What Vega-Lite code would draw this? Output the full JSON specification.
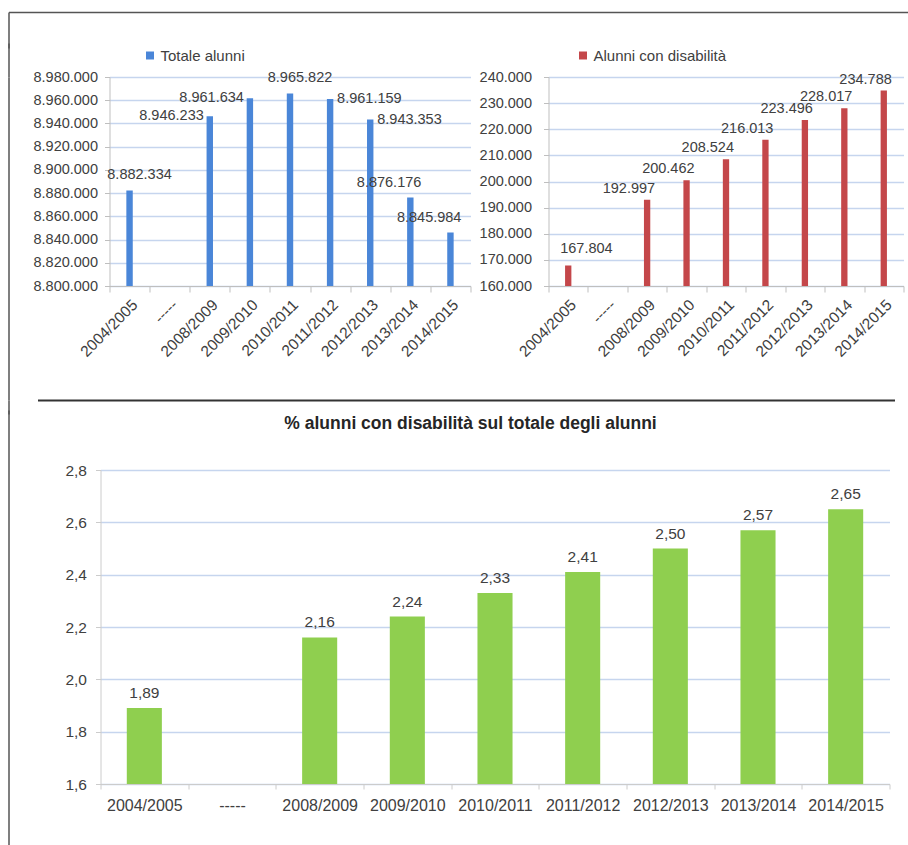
{
  "$schema": "https://vega.github.io/schema/vega-lite/v6.json",
  "padding": {"left": 8.5, "top": 12, "right": 0, "bottom": 0},
  "background": "white",
  "config": {
    "locale": {"number": {"decimal": ",", "thousands": ".", "grouping": [3], "currency": ["", " €"]}},
    "font": "Liberation Sans",
    "view": {"stroke": null},
    "axis": {"labelColor": "#404040", "labelFont": "Liberation Sans", "domainColor": "#bfbfbf", "tickColor": "#bfbfbf", "gridColor": "#c6d5ee", "gridWidth": 1.5, "title": null, "labelOverlap": false},
    "text": {"font": "Liberation Sans", "color": "#404040"},
    "legend": {"labelFontSize": 15, "labelColor": "#404040", "labelFont": "Liberation Sans", "symbolType": "square", "symbolSize": 64, "symbolStrokeWidth": 0, "padding": 0, "labelOffset": 3, "title": null}
  },
  "data": {"values": [
    {"anno": "2004/2005", "totale": 8882334, "disabili": 167804, "perc": 1.89},
    {"anno": "-----", "totale": null, "disabili": null, "perc": null},
    {"anno": "2008/2009", "totale": 8946233, "disabili": 192997, "perc": 2.16},
    {"anno": "2009/2010", "totale": 8961634, "disabili": 200462, "perc": 2.24},
    {"anno": "2010/2011", "totale": 8965822, "disabili": 208524, "perc": 2.33},
    {"anno": "2011/2012", "totale": 8961159, "disabili": 216013, "perc": 2.41},
    {"anno": "2012/2013", "totale": 8943353, "disabili": 223496, "perc": 2.50},
    {"anno": "2013/2014", "totale": 8876176, "disabili": 228017, "perc": 2.57},
    {"anno": "2014/2015", "totale": 8845984, "disabili": 234788, "perc": 2.65}
  ]},
  "columns": 1,
  "align": "none",
  "spacing": 0,
  "concat": [
    {
      "data": {"values": [{"v": 0}]},
      "width": 780,
      "height": 36,
      "mark": {"type": "text", "fontSize": 0},
      "encoding": {
        "x": {"datum": 0, "type": "quantitative", "scale": {"domain": [0, 1], "range": [-101, 800]},
          "axis": {"orient": "top", "labels": false, "ticks": false, "grid": false, "domainColor": "#555555", "domainWidth": 1.5}},
        "y": {"datum": 0, "type": "quantitative", "scale": {"domain": [0, 1]},
          "axis": {"orient": "left", "offset": 101, "labels": false, "ticks": false, "grid": false, "domainColor": "#555555", "domainWidth": 1.5}},
        "text": {"value": ""}
      }
    },
    {
      "hconcat": [
        {
          "width": 361,
          "height": 209,
          "encoding": {
            "x": {"field": "anno", "type": "nominal", "sort": null,
              "scale": {"domain": ["2004/2005", "-----", "2008/2009", "2009/2010", "2010/2011", "2011/2012", "2012/2013", "2013/2014", "2014/2015"], "paddingInner": 0, "paddingOuter": 0},
              "axis": {"labelAngle": -45, "labelFontSize": 15.5, "tickBand": "extent", "tickSize": 6, "labelPadding": 5, "grid": false, "minExtent": 90}}
          },
          "layer": [
            {
              "encoding": {
                "y": {"field": "totale", "type": "quantitative",
                  "scale": {"domain": [8800000, 8980000], "nice": false, "zero": false},
                  "axis": {"orient": "left", "values": [8800000, 8820000, 8840000, 8860000, 8880000, 8900000, 8920000, 8940000, 8960000, 8980000], "labelExpr": "format(datum.value, ',')", "labelFontSize": 14.5, "tickSize": 5, "labelPadding": 7, "minExtent": 77, "grid": true}}
              },
              "layer": [
                {"mark": {"type": "bar", "width": {"band": 0.16}, "clip": true},
                 "encoding": {"color": {"datum": "Totale alunni", "type": "nominal", "scale": {"range": ["#4a86d8"]}, "legend": {"orient": "none", "legendX": 33, "legendY": -29}}}},
                {"transform": [{"filter": {"field": "anno", "oneOf": ["2008/2009", "2009/2010"]}}],
                 "mark": {"type": "text", "align": "right", "baseline": "middle", "dx": -6, "fontSize": 14.5},
                 "encoding": {"text": {"field": "totale", "type": "quantitative", "format": ","}}},
                {"transform": [{"filter": {"field": "anno", "oneOf": ["2011/2012", "2012/2013"]}}],
                 "mark": {"type": "text", "align": "left", "baseline": "middle", "dx": 7, "fontSize": 14.5},
                 "encoding": {"text": {"field": "totale", "type": "quantitative", "format": ","}}},
                {"transform": [{"filter": {"field": "anno", "oneOf": ["2004/2005", "2010/2011"]}}],
                 "mark": {"type": "text", "align": "center", "baseline": "bottom", "dx": 10, "dy": -8, "fontSize": 14.5},
                 "encoding": {"text": {"field": "totale", "type": "quantitative", "format": ","}}},
                {"transform": [{"filter": {"field": "anno", "oneOf": ["2013/2014", "2014/2015"]}}],
                 "mark": {"type": "text", "align": "right", "baseline": "bottom", "dx": 11, "dy": -8, "fontSize": 14.5},
                 "encoding": {"text": {"field": "totale", "type": "quantitative", "format": ","}}}
              ]
            },
            {"data": {"values": [{"v": 0}]},
             "mark": {"type": "text", "fontSize": 0},
             "encoding": {
               "x": {"datum": "2004/2005", "type": "nominal"},
               "y": {"datum": 0, "type": "quantitative", "scale": {"domain": [0, 1], "range": [0, -34]},
                 "axis": {"orient": "left", "offset": 101, "labels": false, "ticks": false, "grid": false, "domainColor": "#555555", "domainWidth": 1.5}},
               "text": {"value": ""}}},
            {"data": {"values": [{"v": 0}]},
             "mark": {"type": "text", "fontSize": 0},
             "encoding": {
               "x": {"datum": "2004/2005", "type": "nominal"},
               "y": {"datum": 0, "type": "quantitative", "scale": {"domain": [0, 1], "range": [323, 0]},
                 "axis": {"orient": "left", "offset": 101, "labels": false, "ticks": false, "grid": false, "domainColor": "#555555", "domainWidth": 1.5}},
               "text": {"value": ""}}}
          ],
          "resolve": {"scale": {"y": "independent"}, "axis": {"y": "independent"}}
        },
        {
          "width": 355,
          "height": 209,
          "encoding": {
            "x": {"field": "anno", "type": "nominal", "sort": null,
              "scale": {"domain": ["2004/2005", "-----", "2008/2009", "2009/2010", "2010/2011", "2011/2012", "2012/2013", "2013/2014", "2014/2015"], "paddingInner": 0, "paddingOuter": 0},
              "axis": {"labelAngle": -45, "labelFontSize": 15.5, "tickBand": "extent", "tickSize": 6, "labelPadding": 5, "grid": false, "minExtent": 90}},
            "y": {"field": "disabili", "type": "quantitative",
              "scale": {"domain": [160000, 240000], "nice": false, "zero": false},
              "axis": {"values": [160000, 170000, 180000, 190000, 200000, 210000, 220000, 230000, 240000], "labelExpr": "format(datum.value, ',')", "labelFontSize": 14.5, "tickSize": 5, "labelPadding": 12, "minExtent": 70, "grid": true}}
          },
          "layer": [
            {"mark": {"type": "bar", "width": {"band": 0.16}, "clip": true},
             "encoding": {"color": {"datum": "Alunni con disabilità", "type": "nominal", "scale": {"range": ["#c4474a"]}, "legend": {"orient": "none", "legendX": 27, "legendY": -29}}}},
            {"transform": [{"filter": {"field": "anno", "equal": "2004/2005"}}],
             "mark": {"type": "text", "align": "left", "baseline": "bottom", "dx": -8, "dy": -10, "fontSize": 14.5},
             "encoding": {"text": {"field": "disabili", "type": "quantitative", "format": ","}}},
            {"transform": [{"filter": {"field": "anno", "oneOf": ["2008/2009", "2009/2010", "2010/2011", "2011/2012", "2012/2013", "2013/2014", "2014/2015"]}}],
             "mark": {"type": "text", "align": "right", "baseline": "bottom", "dx": 8, "dy": -4, "fontSize": 14.5},
             "encoding": {"text": {"field": "disabili", "type": "quantitative", "format": ","}}}
          ]
        }
      ],
      "spacing": 7,
      "resolve": {"scale": {"color": "independent"}, "legend": {"color": "independent"}}
    },
    {
      "data": {"values": [{"v": 0}]},
      "width": 780,
      "height": 14,
      "mark": {"type": "text", "fontSize": 0},
      "encoding": {
        "x": {"datum": 0, "type": "quantitative", "scale": {"domain": [0, 1], "range": [-72, 785]},
          "axis": {"orient": "top", "labels": false, "ticks": false, "grid": false, "domainColor": "#333333", "domainWidth": 2}},
        "y": {"datum": 0, "type": "quantitative", "scale": {"domain": [0, 1]},
          "axis": {"orient": "left", "offset": 101, "labels": false, "ticks": false, "grid": false, "domainColor": "#555555", "domainWidth": 1.5}},
        "text": {"value": ""}
      }
    },
    {
      "width": 780,
      "height": 314,
      "title": {"text": "% alunni con disabilità sul totale degli alunni", "fontSize": 17.5, "fontWeight": "bold", "color": "#262626", "font": "Liberation Sans", "anchor": "middle", "frame": "group", "offset": 31, "dx": -29},
      "encoding": {
        "x": {"field": "anno", "type": "nominal", "sort": null,
          "scale": {"domain": ["2004/2005", "-----", "2008/2009", "2009/2010", "2010/2011", "2011/2012", "2012/2013", "2013/2014", "2014/2015"], "range": [-9, 780], "paddingInner": 0, "paddingOuter": 0},
          "axis": {"labelAngle": 0, "labelFontSize": 16, "tickBand": "extent", "tickSize": 5, "labelPadding": 8, "grid": false, "domainColor": "#cccccc", "tickColor": "#cccccc"}}
      },
      "layer": [
        {
          "encoding": {
            "y": {"field": "perc", "type": "quantitative",
              "scale": {"domain": [1.6, 2.8], "nice": false, "zero": false},
              "axis": {"orient": "left", "values": [1.6, 1.8, 2.0, 2.2, 2.4, 2.6, 2.8], "format": ".1f", "labelFontSize": 15.5, "tickSize": 5, "labelPadding": 9, "offset": 9, "grid": true, "domainColor": "#cccccc", "tickColor": "#cccccc"}}
          },
          "layer": [
            {"mark": {"type": "bar", "width": {"band": 0.4}, "color": "#8fcf4f", "clip": true}},
            {"mark": {"type": "text", "align": "center", "baseline": "bottom", "dy": -7, "fontSize": 15.5},
             "encoding": {"text": {"field": "perc", "type": "quantitative", "format": ".2f"}}}
          ]
        },
        {"data": {"values": [{"v": 0}]},
         "mark": {"type": "text", "fontSize": 0},
         "encoding": {
           "x": {"datum": "2004/2005", "type": "nominal"},
           "y": {"datum": 0, "type": "quantitative", "scale": {"domain": [0, 1], "range": [385, -60]},
             "axis": {"orient": "left", "offset": 101, "labels": false, "ticks": false, "grid": false, "domainColor": "#555555", "domainWidth": 1.5}},
           "text": {"value": ""}}}
      ],
      "resolve": {"scale": {"y": "independent"}, "axis": {"y": "independent"}}
    }
  ]
}
